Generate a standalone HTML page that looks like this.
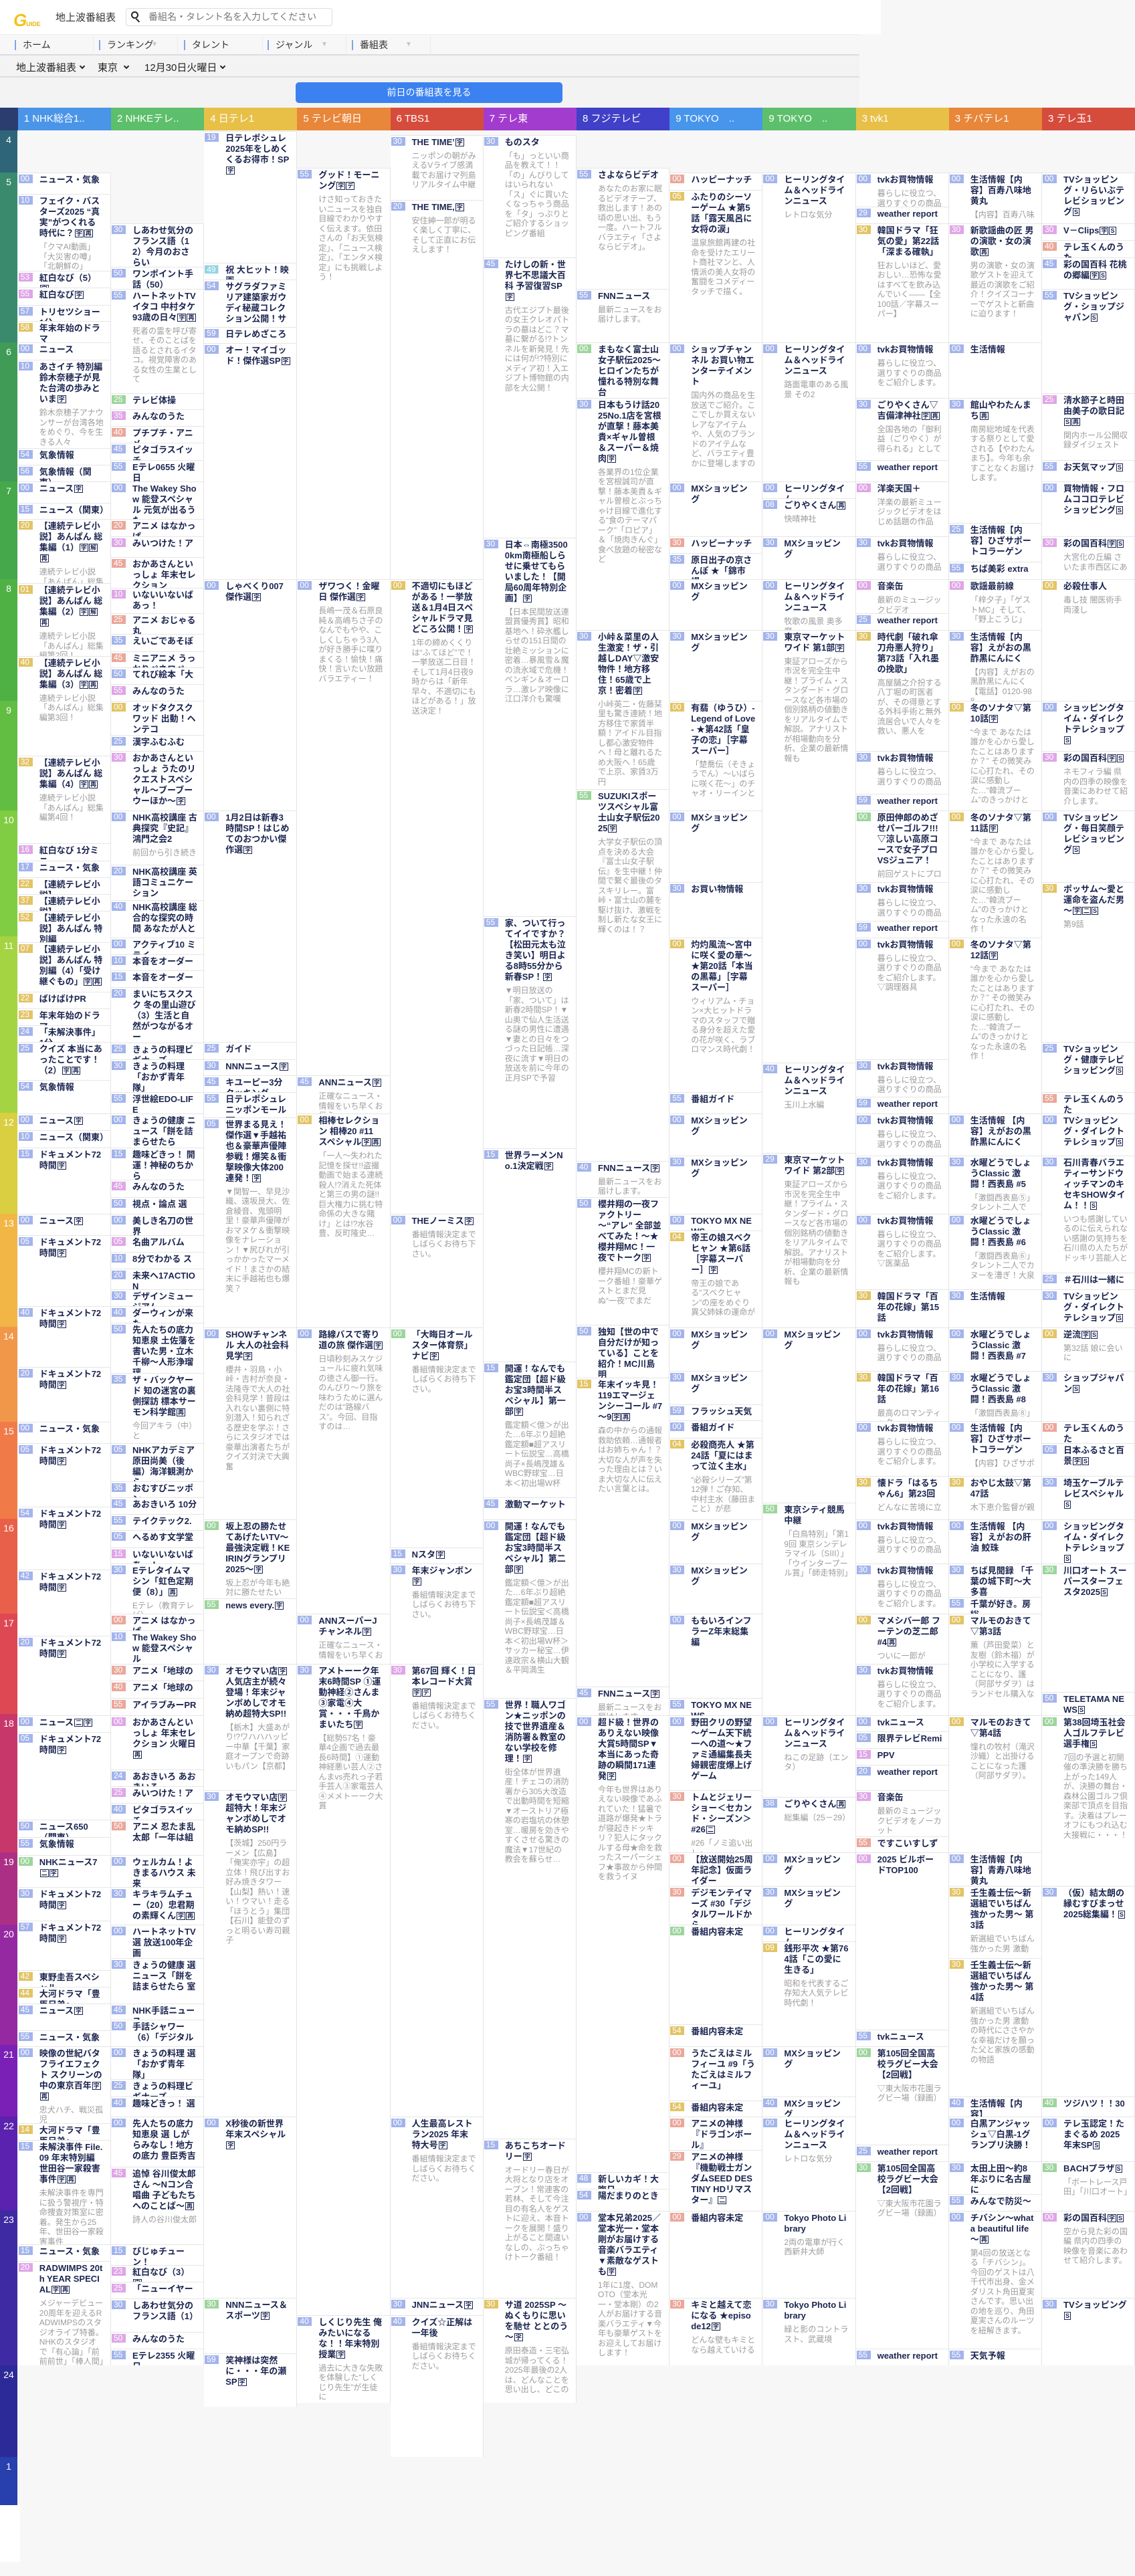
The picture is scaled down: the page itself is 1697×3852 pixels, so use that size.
<!DOCTYPE html>
<html lang="ja"><head><meta charset="utf-8"><title>地上波番組表</title>
<style>
*{box-sizing:border-box}
html{height:3852px;overflow:hidden}
body{margin:0;width:1697px;height:3852px;position:relative;background:#f7f7f8;overflow:hidden;font-family:"Liberation Sans","Noto Sans CJK JP",sans-serif}
.a{position:absolute}
.nav{left:0;top:51px;width:1285px;height:32px;background:#f7f7f7;border-top:1px solid #eee;border-bottom:2px solid #dcdcdc}
.ni{position:absolute;top:0;height:30px;width:126px;border-right:1px solid #ececec;font-size:14px;line-height:30px;color:#333}
.ni:before{content:"";position:absolute;left:8px;top:8px;width:2px;height:15px;background:#7aa6e6}
.ni span{position:absolute;left:20px}
.ni em{position:absolute;font-style:normal;color:#c4c4c4;font-size:10px}
.sel{left:0;top:83px;width:1285px;height:33px;background:#f3f3f3;border-bottom:2px solid #dcdcdc;font-size:15px;color:#222}
.sel span{position:absolute;top:7px}
.chev{display:inline-block;width:6px;height:6px;border-right:2px solid #222;border-bottom:2px solid #222;transform:rotate(45deg);margin-left:6px;vertical-align:4px}
.hdr{top:161px;height:34px;color:#fff;font-size:15px;line-height:34px;padding-left:9px;white-space:nowrap;overflow:hidden}
.h{left:0;width:26px;color:#fff;font-size:14px;line-height:16px;text-align:center;padding-top:6px}
.col{position:absolute;top:195px;width:139.3px;overflow:hidden;height:var(--e)}
.c{position:absolute;left:0;right:0;background:#fff;border-top:1px solid #e6e6e6;border-right:1px solid #e4e4e4;overflow:hidden}
.u{top:calc(var(--y)*1.18px - 5px);height:calc(var(--e) - var(--y)*1.18px + 5px)}
.l{top:calc(var(--y)*1.162px + 1835px);height:calc(var(--e) - var(--y)*1.162px - 1835px)}
.c i{position:absolute;left:1px;top:2px;width:21px;height:13px;background:#a3b4ec;color:#fff;font:12px/13px "Liberation Sans",sans-serif;font-style:normal;padding-left:3px}
.c i.p{background:#dfa6e7}.c i.y{background:#e2c465}.c i.g{background:#9dd59d}.c i.r{background:#eba79a}.c i.c{background:#8fd5e6}
.c b{display:block;margin-left:32px;width:97px;padding-top:2px;font:bold 13px/16px "Liberation Sans","Noto Sans CJK JP",sans-serif;color:#1b2550;word-break:break-all}
.c p{margin:5px 0 0 32px;width:97px;font:12px/14.5px "Liberation Sans","Noto Sans CJK JP",sans-serif;color:#9c9c9c;word-break:break-all}
.k{display:inline-block;font-size:9px;line-height:10px;border:1px solid #1b2550;padding:0 1px;margin-left:1px;vertical-align:1px}
</style></head><body>

<!-- top bar -->
<div class="a" style="left:0;top:0;width:1317px;height:51px;background:#fff"></div>
<div class="a" style="left:20px;top:17px;font:italic bold 26px/26px 'Liberation Sans',sans-serif;color:#f2c21b;letter-spacing:-1px">G<span style="font-size:9px;font-style:normal;color:#e8b410;letter-spacing:0">UIDE</span></div>
<div class="a" style="left:83px;top:16px;font-size:15px;line-height:22px;color:#333">地上波番組表</div>
<div class="a" style="left:188px;top:12px;width:309px;height:27px;border:1px solid #ddd;border-radius:4px;background:#fff"></div>
<div class="a" style="left:196px;top:17px;width:11px;height:11px;border:2px solid #222;border-radius:50%"></div>
<div class="a" style="left:205px;top:27px;width:2px;height:7px;background:#222;transform:rotate(-45deg)"></div>
<div class="a" style="left:222px;top:15px;font-size:14px;line-height:20px;color:#777">番組名・タレント名を入力してください</div>

<div class="a nav">
<div class="ni" style="left:14px"><span>ホーム</span></div>
<div class="ni" style="left:140px"><span>ランキング</span><em style="left:86px">▼</em></div>
<div class="ni" style="left:267px"><span>タレント</span></div>
<div class="ni" style="left:392px"><span>ジャンル</span><em style="left:88px">▼</em></div>
<div class="ni" style="left:518px"><span>番組表</span><em style="left:88px">▼</em></div>
</div>
<div class="a sel">
<span style="left:24px">地上波番組表<i class="chev"></i></span>
<span style="left:146px">東京 <i class="chev"></i></span>
<span style="left:216px">12月30日火曜日<i class="chev"></i></span>
</div>
<div class="a" style="left:0;top:117px;width:1285px;height:44px;background:#f3f3f3"></div>
<div class="a" style="left:442px;top:123px;width:399px;height:31px;background:#3b82f0;border-radius:5px;color:#fff;font-size:14px;line-height:31px;text-align:center">前日の番組表を見る</div>

<!-- channel header -->
<div class="a hdr" style="left:0;width:27px;background:#2b3d6e;padding:0"></div>
<div class="a hdr" style="left:26.7px;width:139.3px;background:#4a95e8">1 NHK総合1..</div>
<div class="a hdr" style="left:166px;width:139.3px;background:#5dbf6b">2 NHKEテレ..</div>
<div class="a hdr" style="left:305.2px;width:139.3px;background:#e8c048">4 日テレ1</div>
<div class="a hdr" style="left:444.4px;width:139.3px;background:#e8863a">5 テレビ朝日</div>
<div class="a hdr" style="left:583.6px;width:139.3px;background:#d64c3c">6 TBS1</div>
<div class="a hdr" style="left:722.8px;width:139.3px;background:#a23ccf">7 テレ東</div>
<div class="a hdr" style="left:862px;width:139.3px;background:#4040c8">8 フジテレビ</div>
<div class="a hdr" style="left:1001.2px;width:139.3px;background:#4895ec">9 TOKYO　..</div>
<div class="a hdr" style="left:1140.4px;width:139.3px;background:#5dbf6b">9 TOKYO　..</div>
<div class="a hdr" style="left:1279.6px;width:139.3px;background:#e8c048">3 tvk1</div>
<div class="a hdr" style="left:1418.8px;width:139.3px;background:#e8863a">3 チバテレ1</div>
<div class="a hdr" style="left:1558px;width:139px;background:#d64c3c">3 テレ玉1</div>

<!-- time column -->
<div class="a h" style="top:195px;height:63px;background:#2e6579">4</div>
<div class="a h" style="top:258px;height:254px;background:#3a8a6e">5</div>
<div class="a h" style="top:512px;height:208px;background:#3f9b56">6</div>
<div class="a h" style="top:720px;height:146px;background:#45a84a">7</div>
<div class="a h" style="top:866px;height:182px;background:#4fb144">8</div>
<div class="a h" style="top:1048px;height:164px;background:#62be42">9</div>
<div class="a h" style="top:1212px;height:188px;background:#80cc42">10</div>
<div class="a h" style="top:1400px;height:264px;background:#a4d442">11</div>
<div class="a h" style="top:1664px;height:151px;background:#dacf40">12</div>
<div class="a h" style="top:1815px;height:169px;background:#f1b646">13</div>
<div class="a h" style="top:1984px;height:142px;background:#f1974a">14</div>
<div class="a h" style="top:2126px;height:145px;background:#f07b48">15</div>
<div class="a h" style="top:2271px;height:142px;background:#e9604a">16</div>
<div class="a h" style="top:2413px;height:150px;background:#de4853">17</div>
<div class="a h" style="top:2563px;height:207px;background:#c7376a">18</div>
<div class="a h" style="top:2770px;height:108px;background:#ac2f86">19</div>
<div class="a h" style="top:2878px;height:180px;background:#9529a1">20</div>
<div class="a h" style="top:3058px;height:107px;background:#7a20b6">21</div>
<div class="a h" style="top:3165px;height:140px;background:#5a22ae">22</div>
<div class="a h" style="top:3305px;height:232px;background:#3e2aa2">23</div>
<div class="a h" style="top:3537px;height:137px;background:#2c2a98">24</div>
<div class="a h" style="top:3674px;height:72px;background:#2740ae">1</div>
<div class="a" style="left:0;top:3746px;width:30px;height:85px;background:#fff"></div>

<!-- NHK -->
<div class="col" style="left:26.7px;--e:3342px">
<div class="c u" style="--y:58"><i>00</i><b>ニュース・気象</b></div>
<div class="c u" style="--y:85"><i>10</i><b>フェイク・バスターズ2025 “真実”がつくれる時代に？<span class="k">字</span><span class="k">再</span></b><p>「クマAI動画」「大災害の噂」「北朝鮮の」</p></div>
<div class="c u" style="--y:182"><i class="p">53</i><b>紅白なび（5）<span class="k">字</span></b></div>
<div class="c u" style="--y:203"><i class="p">55</i><b>紅白なび<span class="k">字</span></b></div>
<div class="c u" style="--y:225"><i>57</i><b>トリセツショー1分</b></div>
<div class="c u" style="--y:246"><i class="y">58</i><b>年末年始のドラマ</b></div>
<div class="c u" style="--y:273"><i>00</i><b>ニュース</b></div>
<div class="c u" style="--y:295"><i>10</i><b>あさイチ 特別編 鈴木奈穂子が見た台湾の歩みといま<span class="k">字</span></b><p>鈴木奈穂子アナウンサーが台湾各地をめぐり、今を生きる人々</p></div>
<div class="c u" style="--y:407"><i>54</i><b>気象情報</b></div>
<div class="c u" style="--y:428"><i>56</i><b>気象情報（関東）</b></div>
<div class="c u" style="--y:449"><i>00</i><b>ニュース<span class="k">字</span></b></div>
<div class="c u" style="--y:476"><i>15</i><b>ニュース（関東）</b></div>
<div class="c u" style="--y:497"><i class="y">20</i><b>【連続テレビ小説】あんぱん 総集編（1）<span class="k">字</span><span class="k">解</span><span class="k">再</span></b><p>連続テレビ小説「あんぱん」総集編</p></div>
<div class="c u" style="--y:578"><i class="y">01</i><b>【連続テレビ小説】あんぱん 総集編（2）<span class="k">字</span><span class="k">解</span><span class="k">再</span></b><p>連続テレビ小説「あんぱん」総集編第2回！</p></div>
<div class="c u" style="--y:670"><i class="y">40</i><b>【連続テレビ小説】あんぱん 総集編（3）<span class="k">字</span><span class="k">再</span></b><p>連続テレビ小説「あんぱん」総集編第3回！</p></div>
<div class="c u" style="--y:797"><i class="y">32</i><b>【連続テレビ小説】あんぱん 総集編（4）<span class="k">字</span><span class="k">再</span></b><p>連続テレビ小説「あんぱん」総集編第4回！</p></div>
<div class="c u" style="--y:908"><i class="p">16</i><b>紅白なび 1分ミニ</b></div>
<div class="c u" style="--y:930"><i>17</i><b>ニュース・気象</b></div>
<div class="c u" style="--y:951"><i class="y">22</i><b>【連続テレビ小説】</b></div>
<div class="c u" style="--y:972"><i class="y">37</i><b>【連続テレビ小説】</b></div>
<div class="c u" style="--y:993"><i class="y">52</i><b>【連続テレビ小説】あんぱん 特別編</b></div>
<div class="c u" style="--y:1033"><i class="y">07</i><b>【連続テレビ小説】あんぱん 特別編（4）「受け継ぐもの」<span class="k">字</span><span class="k">再</span></b></div>
<div class="c u" style="--y:1096"><i class="y">22</i><b>ばけばけPR</b></div>
<div class="c u" style="--y:1117"><i class="y">23</i><b>年末年始のドラマ</b></div>
<div class="c u" style="--y:1138"><i>24</i><b>「未解決事件」1分</b></div>
<div class="c u" style="--y:1159"><i>25</i><b>クイズ 本当にあったことです！（2）<span class="k">字</span><span class="k">再</span></b></div>
<div class="c u" style="--y:1208"><i>54</i><b>気象情報</b></div>
<div class="c u" style="--y:1250"><i>00</i><b>ニュース<span class="k">字</span></b></div>
<div class="c u" style="--y:1271"><i>10</i><b>ニュース（関東）</b></div>
<div class="c u" style="--y:1293"><i>15</i><b>ドキュメント72時間<span class="k">字</span></b></div>
<div class="c u" style="--y:1377"><i>00</i><b>ニュース<span class="k">字</span></b></div>
<div class="c u" style="--y:1404"><i>05</i><b>ドキュメント72時間<span class="k">字</span></b></div>
<div class="c u" style="--y:1494"><i>40</i><b>ドキュメント72時間<span class="k">字</span></b></div>
<div class="c l" style="--y:12"><i>20</i><b>ドキュメント72時間<span class="k">字</span></b></div>
<div class="c l" style="--y:83"><i>00</i><b>ニュース・気象</b></div>
<div class="c l" style="--y:110"><i>05</i><b>ドキュメント72時間<span class="k">字</span></b></div>
<div class="c l" style="--y:192"><i>54</i><b>ドキュメント72時間<span class="k">字</span></b></div>
<div class="c l" style="--y:273"><i>42</i><b>ドキュメント72時間<span class="k">字</span></b></div>
<div class="c l" style="--y:358"><i>20</i><b>ドキュメント72時間<span class="k">字</span></b></div>
<div class="c l" style="--y:460"><i>00</i><b>ニュース<span class="k">二</span><span class="k">字</span></b></div>
<div class="c l" style="--y:482"><i>05</i><b>ドキュメント72時間<span class="k">字</span></b></div>
<div class="c l" style="--y:595"><i>50</i><b>ニュース650（関東）</b></div>
<div class="c l" style="--y:617"><i>55</i><b>気象情報</b></div>
<div class="c l" style="--y:640"><i class="g">00</i><b>NHKニュース7<span class="k">二</span><span class="k">字</span></b></div>
<div class="c l" style="--y:682"><i>30</i><b>ドキュメント72時間<span class="k">字</span></b></div>
<div class="c l" style="--y:725"><i>57</i><b>ドキュメント72時間<span class="k">字</span></b></div>
<div class="c l" style="--y:788"><i class="y">42</i><b>東野圭吾スペシャル</b></div>
<div class="c l" style="--y:810"><i class="y">44</i><b>大河ドラマ「豊臣兄弟」</b></div>
<div class="c l" style="--y:831"><i>45</i><b>ニュース<span class="k">字</span></b></div>
<div class="c l" style="--y:866"><i>55</i><b>ニュース・気象</b></div>
<div class="c l" style="--y:886"><i>00</i><b>映像の世紀バタフライエフェクト スクリーンの中の東京百年<span class="k">字</span><span class="k">再</span></b><p>忠犬ハチ、戦災孤児</p></div>
<div class="c l" style="--y:985"><i class="y">14</i><b>大河ドラマ「豊臣兄弟」</b></div>
<div class="c l" style="--y:1007"><i>15</i><b>未解決事件 File.09 年末特別編 世田谷一家殺害事件<span class="k">字</span><span class="k">再</span></b><p>未解決事件を専門に扱う警視庁・特命捜査対策室に密着。発生から25年、世田谷一家殺害事件</p></div>
<div class="c l" style="--y:1141"><i>15</i><b>ニュース・気象</b></div>
<div class="c l" style="--y:1163"><i class="p">20</i><b>RADWIMPS 20th YEAR SPECIAL<span class="k">字</span><span class="k">再</span></b><p>メジャーデビュー20周年を迎えるRADWIMPSのスタジオライブ特番。NHKのスタジオで「有心論」「前前前世」「棒人間」</p></div>
</div>

<!-- NHK E -->
<div class="col" style="left:166px;--e:3342px">
<div class="c u" style="--y:122"><i>30</i><b>しあわせ気分のフランス語（12）今月のおさらい</b></div>
<div class="c u" style="--y:177"><i>50</i><b>ワンポイント手話（50）</b></div>
<div class="c u" style="--y:205"><i>55</i><b>ハートネットTV イタコ 中村タケ93歳の日々<span class="k">字</span><span class="k">再</span></b><p>死者の霊を呼び寄せ、そのことばを語るとされるイタコ。視覚障害のある女性の生業として</p></div>
<div class="c u" style="--y:337"><i class="g">25</i><b>テレビ体操</b></div>
<div class="c u" style="--y:358"><i class="p">35</i><b>みんなのうた</b></div>
<div class="c u" style="--y:379"><i class="r">40</i><b>プチプチ・アニメ</b></div>
<div class="c u" style="--y:400"><i>45</i><b>ピタゴラスイッチ</b></div>
<div class="c u" style="--y:422"><i>55</i><b>Eテレ0655 火曜日</b></div>
<div class="c u" style="--y:449"><i>00</i><b>The Wakey Show 能登スペシャル 元気が出るうた</b></div>
<div class="c u" style="--y:497"><i class="r">20</i><b>アニメ はなかっぱ</b></div>
<div class="c u" style="--y:519"><i class="p">30</i><b>みいつけた！ア</b></div>
<div class="c u" style="--y:545"><i class="r">45</i><b>おかあさんといっしょ 年末セレクション</b></div>
<div class="c u" style="--y:584"><i class="p">10</i><b>いないいないばあっ！</b></div>
<div class="c u" style="--y:616"><i class="r">25</i><b>アニメ おじゃる丸</b></div>
<div class="c u" style="--y:642"><i>35</i><b>えいごであそぼ</b></div>
<div class="c u" style="--y:664"><i class="r">45</i><b>ミニアニメ うっかりペネロペ</b></div>
<div class="c u" style="--y:685"><i>50</i><b>てれび絵本「大</b></div>
<div class="c u" style="--y:706"><i class="p">55</i><b>みんなのうた</b></div>
<div class="c u" style="--y:727"><i class="y">00</i><b>オッドタクスクワッド 出動！ヘンテコ</b></div>
<div class="c u" style="--y:770"><i>25</i><b>漢字ふむふむ</b></div>
<div class="c u" style="--y:791"><i class="p">30</i><b>おかあさんといっしょ うたのリクエストスペシャル～ブーブーウーほか～<span class="k">字</span></b></div>
<div class="c u" style="--y:866"><i>00</i><b>NHK高校講座 古典探究『史記』鴻門之会2</b><p>前回から引き続き</p></div>
<div class="c u" style="--y:935"><i>20</i><b>NHK高校講座 英語コミュニケーション</b></div>
<div class="c u" style="--y:980"><i>40</i><b>NHK高校講座 総合的な探究の時間 あなたが人と</b></div>
<div class="c u" style="--y:1027"><i>00</i><b>アクティブ10 ミライ</b></div>
<div class="c u" style="--y:1048"><i>10</i><b>本音をオーダー</b></div>
<div class="c u" style="--y:1069"><i>15</i><b>本音をオーダー</b></div>
<div class="c u" style="--y:1090"><i>20</i><b>まいにちスクスク 冬の里山遊び（3）生活と自然がつながるオー</b></div>
<div class="c u" style="--y:1160"><i>25</i><b>きょうの料理ビギナーズ</b></div>
<div class="c u" style="--y:1181"><i>30</i><b>きょうの料理「おかず青年隊」</b></div>
<div class="c u" style="--y:1223"><i>55</i><b>浮世絵EDO-LIFE</b></div>
<div class="c u" style="--y:1250"><i>00</i><b>きょうの健康 ニュース「餅を詰まらせたら</b></div>
<div class="c u" style="--y:1293"><i>15</i><b>趣味どきっ！ 開運！神秘のちから</b></div>
<div class="c u" style="--y:1334"><i class="p">45</i><b>みんなのうた</b></div>
<div class="c u" style="--y:1356"><i>50</i><b>視点・論点 選</b></div>
<div class="c u" style="--y:1377"><i>00</i><b>美しき名刀の世界</b></div>
<div class="c u" style="--y:1404"><i class="p">05</i><b>名曲アルバム</b></div>
<div class="c u" style="--y:1425"><i>10</i><b>8分でわかる ス</b></div>
<div class="c u" style="--y:1447"><i>20</i><b>未来へ17ACTION</b></div>
<div class="c u" style="--y:1473"><i>30</i><b>デザインミュージアム</b></div>
<div class="c u" style="--y:1494"><i>40</i><b>ダーウィンが来た</b></div>
<div class="c u" style="--y:1515"><i>50</i><b>先人たちの底力 知恵泉 土佐藩を書いた男・立木千柳～人形浄瑠璃</b></div>
<div class="c l" style="--y:20"><i>35</i><b>ザ・バックヤード 知の迷宮の裏側探訪 標本サーモン科学館<span class="k">再</span></b><p>今回アキラ（中）と</p></div>
<div class="c l" style="--y:110"><i>05</i><b>NHKアカデミア 原田尚美（後編）海洋観測から</b></div>
<div class="c l" style="--y:159"><i>35</i><b>おむすびニッポン</b></div>
<div class="c l" style="--y:180"><i>45</i><b>あおきいろ 10分</b></div>
<div class="c l" style="--y:201"><i>55</i><b>テイクテック2.</b></div>
<div class="c l" style="--y:222"><i>05</i><b>へるめす文学堂</b></div>
<div class="c l" style="--y:244"><i class="p">15</i><b>いないいないばあっ！</b></div>
<div class="c l" style="--y:265"><i>30</i><b>Eテレタイムマシン「虹色定期便（8）」<span class="k">再</span></b><p>Eテレ（教育テレビ）</p></div>
<div class="c l" style="--y:330"><i class="r">00</i><b>アニメ はなかっぱ</b></div>
<div class="c l" style="--y:351"><i>10</i><b>The Wakey Show 能登スペシャル</b></div>
<div class="c l" style="--y:394"><i class="r">30</i><b>アニメ「地球の</b></div>
<div class="c l" style="--y:416"><i class="r">40</i><b>アニメ「地球の</b></div>
<div class="c l" style="--y:438"><i class="r">55</i><b>アイラブみーPR</b></div>
<div class="c l" style="--y:460"><i class="p">00</i><b>おかあさんといっしょ 年末セレクション 火曜日<span class="k">再</span></b></div>
<div class="c l" style="--y:530"><i>24</i><b>あおきいろ あおきいろ</b></div>
<div class="c l" style="--y:552"><i class="p">25</i><b>みいつけた！ア</b></div>
<div class="c l" style="--y:573"><i>40</i><b>ピタゴラスイッチ</b></div>
<div class="c l" style="--y:595"><i class="r">50</i><b>アニメ 忍たま乱太郎「一年は組</b></div>
<div class="c l" style="--y:640"><i>00</i><b>ウェルカム！よきまるハウス 未来</b></div>
<div class="c l" style="--y:682"><i>30</i><b>キラキラムチュー（20）忠君期の素輝くん<span class="k">字</span><span class="k">再</span></b></div>
<div class="c l" style="--y:730"><i>00</i><b>ハートネットTV 選 放送100年企画</b></div>
<div class="c l" style="--y:773"><i>30</i><b>きょうの健康 選 ニュース「餅を詰まらせたら 室</b></div>
<div class="c l" style="--y:831"><i>45</i><b>NHK手話ニュース</b></div>
<div class="c l" style="--y:852"><i>50</i><b>手話シャワー（6）「デジタル</b></div>
<div class="c l" style="--y:886"><i>00</i><b>きょうの料理 選「おかず青年隊」</b></div>
<div class="c l" style="--y:929"><i>25</i><b>きょうの料理ビギナーズ</b></div>
<div class="c l" style="--y:951"><i>40</i><b>趣味どきっ！ 選</b></div>
<div class="c l" style="--y:977"><i>00</i><b>先人たちの底力 知恵泉 選 しがらみなし！地方の底力 豊臣秀吉</b></div>
<div class="c l" style="--y:1041"><i class="p">45</i><b>追悼 谷川俊太郎さん ～Nコン合唱曲 子どもたちへのことば～<span class="k">再</span></b><p>詩人の谷川俊太郎</p></div>
<div class="c l" style="--y:1141"><i>15</i><b>びじゅチューン！</b></div>
<div class="c l" style="--y:1168"><i class="p">23</i><b>紅白なび（3）<span class="k">字</span></b></div>
<div class="c l" style="--y:1189"><i class="p">25</i><b>「ニューイヤー</b></div>
<div class="c l" style="--y:1211"><i>30</i><b>しあわせ気分のフランス語（1）</b></div>
<div class="c l" style="--y:1254"><i class="p">50</i><b>みんなのうた</b></div>
<div class="c l" style="--y:1275"><i>55</i><b>Eテレ2355 火曜日</b></div>
</div>

<!-- 日テレ -->
<div class="col" style="left:305.2px;--e:3404px">
<div class="c u" style="--y:5"><i>19</i><b>日テレポシュレ 2025年をしめくくるお得市！SP<span class="k">字</span></b></div>
<div class="c u" style="--y:172"><i class="c">49</i><b>祝 大ヒット！映画</b></div>
<div class="c u" style="--y:193"><i>54</i><b>サグラダファミリア建築家ガウディ秘蔵コレクション公開！サ</b></div>
<div class="c u" style="--y:253"><i>59</i><b>日テレめざころ</b></div>
<div class="c u" style="--y:274"><i>00</i><b>オー！マイゴッド！傑作選SP<span class="k">字</span></b></div>
<div class="c u" style="--y:573"><i>00</i><b>しゃべくり007 傑作選<span class="k">字</span></b></div>
<div class="c u" style="--y:866"><i>00</i><b>1月2日は新春3時間SP！はじめてのおつかい傑作選<span class="k">字</span></b></div>
<div class="c u" style="--y:1159"><i>25</i><b>ガイド</b></div>
<div class="c u" style="--y:1181"><i>30</i><b>NNNニュース<span class="k">字</span></b></div>
<div class="c u" style="--y:1202"><i>45</i><b>キユーピー3分クッキング</b></div>
<div class="c u" style="--y:1223"><i>55</i><b>日テレポシュレ ニッポンモール<span class="k">字</span></b></div>
<div class="c u" style="--y:1255"><i>05</i><b>世界まる見え！傑作選▼手越祐也＆豪華声優陣参戦！爆笑＆衝撃映像大体200連発！<span class="k">字</span></b><p>▼関智一、早見沙織、遠坂艮大、佐倉綾音、鬼頭明里！豪華声優陣がおマヌケ＆衝撃映像をナレーション！▼尻びれが引っかかったマーメイド！まさかの結末に手越祐也も爆笑？</p></div>
<div class="c u" style="--y:1521"><i>00</i><b>SHOWチャンネル 大人の社会科見学<span class="k">字</span></b><p>櫻井・羽鳥・小峠・吉村が奈良・法隆寺で大人の社会科見学！普段は入れない裏側に特別潜入！知られざる歴史を学ぶ！さらにスタジオでは豪華出演者たちがクイズ対決で大興奮</p></div>
<div class="c l" style="--y:208"><i class="g">00</i><b>坂上忍の勝たせてあげたいTV～最強決定戦！KEIRINグランプリ2025～<span class="k">字</span></b><p>坂上忍が今年も絶対に勝たせたい</p></div>
<div class="c l" style="--y:310"><i class="g">55</i><b>news every.<span class="k">字</span></b></div>
<div class="c l" style="--y:394"><i>30</i><b>オモウマい店<span class="k">字</span>人気店主が続々登場！年末ジャンボめしでオモ納め超特大SP!!</b><p>【栃木】大盛あがり!?ワハハハッピー中華【千葉】家庭オープンで奇跡いもパン【京都】</p></div>
<div class="c l" style="--y:557"><i>30</i><b>オモウマい店<span class="k">字</span>超特大！年末ジャンボめしでオモ納めSP!!</b><p>【茨城】250円ラーメン【広島】「俺実亦宇」の超立体！飛び出すお好み焼きタワー【山梨】熱い！速い！ウマい！走る「ほうとう」集団【石川】能登のずっと明るい寿司親子</p></div>
<div class="c l" style="--y:977"><i>00</i><b>X秒後の新世界 年末スペシャル<span class="k">字</span></b></div>
<div class="c l" style="--y:1210"><i class="g">30</i><b>NNNニュース＆スポーツ<span class="k">字</span></b></div>
<div class="c l" style="--y:1281"><i>59</i><b>笑神様は突然に・・・年の瀬SP<span class="k">字</span></b></div>
</div>

<!-- テレ朝 -->
<div class="col" style="left:444.4px;--e:3398px">
<div class="c u" style="--y:52"><i>55</i><b>グッド！モーニング<span class="k">字</span><span class="k">デ</span></b><p>けさ知っておきたいニュースを独自目線でわかりやすく伝えます。依田さんの「お天気検定」、「ニュース検定」、「エンタメ検定」にも挑戦しよう！</p></div>
<div class="c u" style="--y:573"><i>00</i><b>ザワつく！金曜日 傑作選<span class="k">字</span></b><p>長嶋一茂＆石原良純＆高嶋ちさ子のなんでもやや、こしくしちゃう3人が好き勝手に喋りまくる！愉快！痛快！言いたい放題バラエティー！</p></div>
<div class="c u" style="--y:1202"><i>45</i><b>ANNニュース<span class="k">字</span></b><p>正確なニュース・情報をいち早くお伝え</p></div>
<div class="c u" style="--y:1250"><i class="y">00</i><b>相棒セレクション 相棒20 #11 スペシャル<span class="k">字</span><span class="k">再</span></b><p>「一人～失われた記憶を探せ!!盗撮動画で始まる連続殺人!?消えた死体と第三の男の謎!!巨大権力に挑む特命係の大きな賭け」とは!?水谷豊、反町隆史…</p></div>
<div class="c u" style="--y:1521"><i>00</i><b>路線バスで寄り道の旅 傑作選<span class="k">字</span></b><p>日頃秒刻みスケジュールに疲れ気味の徳さん御一行。のんびり～り旅を味わうために選んだのは“路線バス”。今回、目指すのは…</p></div>
<div class="c l" style="--y:330"><i>00</i><b>ANNスーパーJチャンネル<span class="k">字</span></b><p>正確なニュース・情報をいち早くお</p></div>
<div class="c l" style="--y:394"><i>30</i><b>アメトーーク年末6時間SP ①運動神経②さんま③家電④大賞・・・千鳥かまいたち<span class="k">字</span></b><p>【総勢57名！豪華4企画で過去最長6時間】①運動神経悪い芸人②さんまvs売れっ子若手芸人③家電芸人④メメトーーク大賞</p></div>
<div class="c l" style="--y:1232"><i>40</i><b>しくじり先生 俺みたいになるな！！年末特別授業<span class="k">字</span></b><p>過去に大きな失敗を体験した“しくじり先生”が生徒に</p></div>
</div>

<!-- TBS -->
<div class="col" style="left:583.6px;--e:3479px">
<div class="c u" style="--y:10"><i>30</i><b>THE TIME’<span class="k">字</span></b><p>ニッポンの朝がみえるVライブ感満載でお届けマ列島リアルタイム中継</p></div>
<div class="c u" style="--y:92"><i>20</i><b>THE TIME,<span class="k">字</span></b><p>安住紳一郎が明るく楽しく丁寧に、そして正直にお伝えします！</p></div>
<div class="c u" style="--y:573"><i class="y">00</i><b>不適切にもほどがある！一挙放送＆1月4日スペシャルドラマ見どころ公開！<span class="k">字</span></b><p>1年の締めくくりは“ふてほど”で！一挙放送二日目！そして1月4日夜9時からは「新年早々、不適切にもほどがある！」放送決定！</p></div>
<div class="c u" style="--y:1377"><i>00</i><b>THEノーミス<span class="k">字</span></b><p>番組情報決定までしばらくお待ち下さい。</p></div>
<div class="c u" style="--y:1521"><i class="g">00</i><b>「大晦日オールスター体育祭」ナビ<span class="k">字</span></b><p>番組情報決定までしばらくお待ち下さい。</p></div>
<div class="c l" style="--y:244"><i>15</i><b>Nスタ<span class="k">字</span></b></div>
<div class="c l" style="--y:265"><i>30</i><b>年末ジャンボン<span class="k">字</span></b><p>番組情報決定までしばらくお待ち下さい。</p></div>
<div class="c l" style="--y:394"><i class="p">30</i><b>第67回 輝く！日本レコード大賞<span class="k">字</span><span class="k">デ</span></b><p>番組情報決定までしばらくお待ちください。</p></div>
<div class="c l" style="--y:977"><i>00</i><b>人生最高レストラン2025 年末特大号<span class="k">字</span></b><p>番組情報決定までしばらくお待ちください。</p></div>
<div class="c l" style="--y:1210"><i>30</i><b>JNNニュース<span class="k">字</span></b></div>
<div class="c l" style="--y:1232"><i>40</i><b>クイズ☆正解は一年後</b><p>番組情報決定までしばらくお待ちください。</p></div>
</div>

<!-- テレ東 -->
<div class="col" style="left:722.8px;--e:3398px">
<div class="c u" style="--y:10"><i>30</i><b>ものスタ</b><p>「も」っといい商品を教えて！！「の」んびりしてはいられない「ス」ぐに買いたくなっちゃう商品を「タ」っぷりとご紹介するショッピング番組</p></div>
<div class="c u" style="--y:165"><i>45</i><b>たけしの新・世界七不思議大百科 予習復習SP<span class="k">字</span></b><p>古代エジプト最後の女王クレオパトラの墓はどこ？マ墓に繋がる!?トンネルを新発見！先には何が!?特別にメディア初！入エジプト博物館の内部を大公開！</p></div>
<div class="c u" style="--y:520"><i>30</i><b>日本⇔南極35000km南極船しらせに乗せてもらいました！【開局60周年特別企画】<span class="k">字</span></b><p>【日本民間放送連盟賞優秀賞】昭和基地へ！砕氷艦しらせの151日間の壮絶ミッションに密着…暴風雪＆魔の流氷域で危機！ペンギン＆オーロラ…激レア映像に江口洋介も驚嘆</p></div>
<div class="c u" style="--y:1000"><i>55</i><b>家、ついて行ってイイですか？【松田元太も泣き笑い】明日よる8時55分から新春SP！<span class="k">字</span></b><p>▼明日放送の「家、ついて」は新春2時間SP！▼山奥で仙人生活送る謎の男性に遭遇▼妻との日々をつづった日記帳…深夜に流す▼明日の放送を前に今年の正月SPで予習</p></div>
<div class="c u" style="--y:1294"><i>15</i><b>世界ラーメンNo.1決定戦<span class="k">字</span></b></div>
<div class="c l" style="--y:5"><i>15</i><b>開運！なんでも鑑定団【超ド級お宝3時間半スペシャル】第一部<span class="k">字</span></b><p>鑑定額＜億＞が出た…6年ぶり超絶鑑定額■超アスリート伝説宝…高橋尚子×長嶋茂雄＆WBC野球宝…日本＜初出場W杯</p></div>
<div class="c l" style="--y:180"><i>45</i><b>激動マーケット</b></div>
<div class="c l" style="--y:208"><i>00</i><b>開運！なんでも鑑定団【超ド級お宝3時間半スペシャル】第二部<span class="k">字</span></b><p>鑑定額＜億＞が出た…6年ぶり超絶鑑定額■超アスリート伝説宝＜高橋尚子×長嶋茂雄＆WBC野球宝…日本＜初出場W杯＞サッカー秘宝…伊達政宗＆横山大観＆平岡満生</p></div>
<div class="c l" style="--y:438"><i>55</i><b>世界！職人ワゴン★ニッポンの技で世界遺産＆消防署＆教室のない学校を修理！<span class="k">字</span></b><p>街全体が世界遺産！チェコの消防署から305大改造で出動時間を短縮▼オーストリア極寒の岩塩坑の休憩室…暖房を効きやすくさせる驚きの魔法▼17世紀の教会を蘇らせ…</p></div>
<div class="c l" style="--y:1005"><i>15</i><b>あちこちオードリー<span class="k">字</span></b><p>オードリー春日が大将となり店をオープン！常連客の若林、そして今注目の有名人をゲストに迎え、本音トークを展開！盛り上がること間違いなしの、ぶっちゃけトーク番組！</p></div>
<div class="c l" style="--y:1210"><i class="y">30</i><b>サ道 2025SP ～ぬくもりに思いを馳せ ととのう～<span class="k">字</span></b><p>原田泰造・三宅弘城が帰ってくる！2025年最後の2人は、どんなことを思い出し、どこの</p></div>
</div>

<!-- フジ -->
<div class="col" style="left:862px;--e:3342px">
<div class="c u" style="--y:52"><i>55</i><b>さよならビデオ</b><p>あなたのお家に眠るビデオテープ、救出します！あの頃の思い出、もう一度。ハートフルバラエティ「さよならビデオ」。</p></div>
<div class="c u" style="--y:205"><i>55</i><b>FNNニュース</b><p>最新ニュースをお届けします。</p></div>
<div class="c u" style="--y:273"><i class="g">00</i><b>まもなく富士山女子駅伝2025～ヒロインたちが憧れる特別な舞台</b></div>
<div class="c u" style="--y:343"><i>30</i><b>日本もうけ話2025No.1店を宮根が直撃！藤本美貴×ギャル曽根＆スーパー＆焼肉<span class="k">字</span></b><p>各業界の1位企業を宮根誠司が直撃！藤本美貴＆ギャル曽根とぶっちゃけ目線で進化する“食のテーマパーク”「ロピア」＆「焼肉きんぐ」食べ放題の秘密など</p></div>
<div class="c u" style="--y:637"><i>30</i><b>小峠＆菜里の人生激変！ザ・引越しDAY▽激安物件！地方移住！65歳で上京！密着<span class="k">字</span></b><p>小峠英二・佐藤栞里も驚き連続！地方移住で家賃半額！アイドル目指し都心激安物件へ！母と離れるため大阪へ！65歳で上京、家賃3万円</p></div>
<div class="c u" style="--y:839"><i class="g">55</i><b>SUZUKIスポーツスペシャル富士山女子駅伝2025<span class="k">字</span></b><p>大学女子駅伝の頂点を決める大会『富士山女子駅伝』を生中継！仲間で繋ぐ最後のタスキリレー。富峠・富士山の麓を駆け抜け、激戦を制し新たな女王に輝くのは！？</p></div>
<div class="c u" style="--y:1310"><i>40</i><b>FNNニュース<span class="k">字</span></b><p>最新ニュースをお届けします。</p></div>
<div class="c u" style="--y:1356"><i>50</i><b>櫻井翔の一夜ファクトリー ～“アレ” 全部並べてみた！～★櫻井翔MC！一夜でトーク<span class="k">字</span></b><p>櫻井翔MCの新トーク番組！豪華ゲストとまだ見ぬ“一夜”でまだ</p></div>
<div class="c u" style="--y:1518"><i>50</i><b>独知【世の中で自分だけが知っている】ことを紹介！MC川島明</b></div>
<div class="c l" style="--y:26"><i class="y">15</i><b>年末イッキ見！119エマージェンシーコール #7～9<span class="k">字</span><span class="k">再</span></b><p>森の中からの通報 救助依頼…通報者はお姉ちゃん！？大切な人が声を失った理由とは？いま大切な人に伝えたい言葉とは。</p></div>
<div class="c l" style="--y:423"><i>45</i><b>FNNニュース<span class="k">字</span></b><p>最新ニュースをお届けします。</p></div>
<div class="c l" style="--y:460"><i>00</i><b>超ド級！世界のありえない映像大賞5時間SP▼本当にあった奇跡の瞬間171連発<span class="k">字</span></b><p>今年も世界はありえない映像であふれていた！猛暑で道路が爆発★トラが寝起きドッキリ？犯人にタックルする母★命を救ったスーパーシェフ★事故から仲間を救うイヌ</p></div>
<div class="c l" style="--y:1048"><i>48</i><b>新しいカギ！大晦日</b></div>
<div class="c l" style="--y:1070"><i>54</i><b>陽だまりのとき</b></div>
<div class="c l" style="--y:1098"><i>00</i><b>堂本兄弟2025／堂本光一・堂本剛がお届けする音楽バラエティ▼素敵なゲストも<span class="k">字</span></b><p>1年に1度、DOMOTO（堂本光一・堂本剛）の2人がお届けする音楽バラエティ▼今年も豪華ゲストをお迎えしてお届けします！</p></div>
</div>

<!-- TOKYO MX1 -->
<div class="col" style="left:1001.2px;--e:3342px">
<div class="c u" style="--y:58"><i class="r">00</i><b>ハッピーナッチ</b></div>
<div class="c u" style="--y:80"><i class="y">05</i><b>ふたりのシーソーゲーム ★第5話「露天風呂に女将の涙」</b><p>温泉旅館再建の社命を受けたエリート商社マンと、人情派の美人女将の奮闘をコメディータッチで描く。</p></div>
<div class="c u" style="--y:273"><i>00</i><b>ショップチャンネル お買い物エンターテイメント</b><p>国内外の商品を生放送でご紹介。ここでしか買えないレアなアイテムや、人気のブランドのアイテムなど、バラエティ豊かに登場しますの</p></div>
<div class="c u" style="--y:449"><i>00</i><b>MXショッピング</b></div>
<div class="c u" style="--y:519"><i class="r">30</i><b>ハッピーナッチ</b></div>
<div class="c u" style="--y:540"><i>35</i><b>原日出子の京さんぽ ★「錦市場」</b></div>
<div class="c u" style="--y:573"><i>00</i><b>MXショッピング</b></div>
<div class="c u" style="--y:637"><i>30</i><b>MXショッピング</b></div>
<div class="c u" style="--y:727"><i class="y">00</i><b>有翡（ゆうひ）-Legend of Love- ★第42話「皇子の恋」［字幕スーパー］</b><p>「楚喬伝（そきょうでん）～いばらに咲く花～」のチャオ・リーインと</p></div>
<div class="c u" style="--y:866"><i>00</i><b>MXショッピング</b></div>
<div class="c u" style="--y:957"><i>30</i><b>お買い物情報</b></div>
<div class="c u" style="--y:1027"><i class="y">00</i><b>灼灼風流～宮中に咲く愛の華～★第20話「本当の黒幕」［字幕スーパー］</b><p>ウィリアム・チョン×大ヒットドラマのスタッフで贈る身分を超えた愛の花が咲く、ラブロマンス時代劇！</p></div>
<div class="c u" style="--y:1223"><i>55</i><b>番組ガイド</b></div>
<div class="c u" style="--y:1250"><i>00</i><b>MXショッピング</b></div>
<div class="c u" style="--y:1303"><i>30</i><b>MXショッピング</b></div>
<div class="c u" style="--y:1377"><i>00</i><b>TOKYO MX NEWS</b></div>
<div class="c u" style="--y:1398"><i class="y">04</i><b>帝王の娘スベクヒャン ★第6話［字幕スーパー］<span class="k">字</span></b><p>帝王の娘である“スベクヒャン”の座をめぐり異父姉妹の運命が</p></div>
<div class="c u" style="--y:1521"><i>00</i><b>MXショッピング</b></div>
<div class="c l" style="--y:17"><i>30</i><b>MXショッピング</b></div>
<div class="c l" style="--y:60"><i>59</i><b>フラッシュ天気</b></div>
<div class="c l" style="--y:81"><i>00</i><b>番組ガイド</b></div>
<div class="c l" style="--y:103"><i class="y">04</i><b>必殺商売人 ★第24話「夏にはまって泣く主水」</b><p>“必殺シリーズ”第12弾！ご存知、中村主水（藤田まこと）が悲</p></div>
<div class="c l" style="--y:208"><i>00</i><b>MXショッピング</b></div>
<div class="c l" style="--y:265"><i>30</i><b>MXショッピング</b></div>
<div class="c l" style="--y:330"><i>00</i><b>ももいろインフラーZ年末総集編</b></div>
<div class="c l" style="--y:438"><i>55</i><b>TOKYO MX NEWS</b></div>
<div class="c l" style="--y:460"><i>00</i><b>野田クリの野望～ゲーム天下統一への道～★ファミ通編集長夫婦親密度爆上げゲーム</b></div>
<div class="c l" style="--y:557"><i class="r">30</i><b>トムとジェリーショー＜セカンド・シーズン＞ #26<span class="k">二</span></b><p>#26「ノミ追い出し」</p></div>
<div class="c l" style="--y:637"><i class="r">00</i><b>【放送開始25周年記念】仮面ライダー</b></div>
<div class="c l" style="--y:680"><i class="r">30</i><b>デジモンテイマーズ #30「デジタルワールドから</b></div>
<div class="c l" style="--y:730"><i class="g">00</i><b>番組内容未定</b></div>
<div class="c l" style="--y:858"><i class="y">54</i><b>番組内容未定</b></div>
<div class="c l" style="--y:886"><i class="r">00</i><b>うたごえはミルフィーユ #9「うたごえはミルフィーユ」</b></div>
<div class="c l" style="--y:956"><i class="y">54</i><b>番組内容未定</b></div>
<div class="c l" style="--y:977"><i class="r">00</i><b>アニメの神様『ドラゴンボール』</b></div>
<div class="c l" style="--y:1020"><i class="r">29</i><b>アニメの神様『機動戦士ガンダムSEED DESTINY HDリマスター』<span class="k">二</span></b></div>
<div class="c l" style="--y:1098"><i class="r">00</i><b>番組内容未定</b></div>
<div class="c l" style="--y:1210"><i class="r">30</i><b>キミと越えて恋になる ★episode12<span class="k">字</span></b><p>どんな壁もキミとなら越えていける</p></div>
</div>

<!-- TOKYO MX2 -->
<div class="col" style="left:1140.4px;--e:3342px">
<div class="c u" style="--y:58"><i>00</i><b>ヒーリングタイム＆ヘッドラインニュース</b><p>レトロな気分</p></div>
<div class="c u" style="--y:273"><i>00</i><b>ヒーリングタイム＆ヘッドラインニュース</b><p>路面電車のある風景 その2</p></div>
<div class="c u" style="--y:449"><i>00</i><b>ヒーリングタイム</b></div>
<div class="c u" style="--y:470"><i>08</i><b>ごりやくさん<span class="k">再</span></b><p>快晴神社</p></div>
<div class="c u" style="--y:519"><i>30</i><b>MXショッピング</b></div>
<div class="c u" style="--y:573"><i>00</i><b>ヒーリングタイム＆ヘッドラインニュース</b><p>牧歌の風景 奥多摩</p></div>
<div class="c u" style="--y:637"><i>30</i><b>東京マーケットワイド 第1部<span class="k">字</span></b><p>東証アローズから市況を完全生中継！プライム・スタンダード・グロースなど各市場の個別銘柄の値動きをリアルタイムで解説。アナリストが相場動向を分析、企業の最新情報も</p></div>
<div class="c u" style="--y:1186"><i>40</i><b>ヒーリングタイム＆ヘッドラインニュース</b><p>玉川上水編</p></div>
<div class="c u" style="--y:1300"><i>29</i><b>東京マーケットワイド 第2部<span class="k">字</span></b><p>東証アローズから市況を完全生中継！プライム・スタンダード・グロースなど各市場の個別銘柄の値動きをリアルタイムで解説。アナリストが相場動向を分析、企業の最新情報も</p></div>
<div class="c u" style="--y:1521"><i>00</i><b>MXショッピング</b></div>
<div class="c l" style="--y:187"><i class="g">50</i><b>東京シティ競馬 中継</b><p>「白鳥特別」「第19回 東京シンデレラマイル（SIII）」「ウインタープール賞」「師走特別」</p></div>
<div class="c l" style="--y:460"><i>00</i><b>ヒーリングタイム＆ヘッドラインニュース</b><p>ねこの足跡（エンタ）</p></div>
<div class="c l" style="--y:565"><i>38</i><b>ごりやくさん<span class="k">再</span></b><p>総集編（25－29）</p></div>
<div class="c l" style="--y:637"><i>00</i><b>MXショッピング</b></div>
<div class="c l" style="--y:680"><i>30</i><b>MXショッピング</b></div>
<div class="c l" style="--y:730"><i>00</i><b>ヒーリングタイム</b></div>
<div class="c l" style="--y:751"><i class="y">09</i><b>銭形平次 ★第764話「この愛に生きる」</b><p>昭和を代表するご存知大人気テレビ時代劇！</p></div>
<div class="c l" style="--y:886"><i>00</i><b>MXショッピング</b></div>
<div class="c l" style="--y:951"><i>40</i><b>MXショッピング</b></div>
<div class="c l" style="--y:977"><i>00</i><b>ヒーリングタイム＆ヘッドラインニュース</b><p>レトロな気分</p></div>
<div class="c l" style="--y:1098"><i>00</i><b>Tokyo Photo Library</b><p>2両の電車が行く西新井大師</p></div>
<div class="c l" style="--y:1210"><i>30</i><b>Tokyo Photo Library</b><p>緑と影のコントラスト、武蔵境</p></div>
</div>

<!-- tvk -->
<div class="col" style="left:1279.6px;--e:3342px">
<div class="c u" style="--y:58"><i>00</i><b>tvkお買物情報</b><p>暮らしに役立つ、選りすぐりの商品</p></div>
<div class="c u" style="--y:101"><i>29</i><b>weather report</b></div>
<div class="c u" style="--y:122"><i class="y">30</i><b>韓国ドラマ「狂気の愛」第22話「深まる確執」</b><p>狂おしいほど、愛おしい…恐怖な愛はすべてを飲み込んでいく――【全100話／字幕スーパー】</p></div>
<div class="c u" style="--y:273"><i>00</i><b>tvkお買物情報</b><p>暮らしに役立つ、選りすぐりの商品をご紹介します。</p></div>
<div class="c u" style="--y:343"><i>30</i><b>ごりやくさん▽吉備津神社<span class="k">字</span><span class="k">再</span></b><p>全国各地の「御利益（ごりやく）が得られる」として</p></div>
<div class="c u" style="--y:422"><i>55</i><b>weather report</b></div>
<div class="c u" style="--y:449"><i class="p">00</i><b>洋楽天国＋</b><p>洋楽の最新ミュージックビデオをはじめ話題の作品</p></div>
<div class="c u" style="--y:519"><i>30</i><b>tvkお買物情報</b><p>暮らしに役立つ、選りすぐりの商品</p></div>
<div class="c u" style="--y:573"><i class="p">00</i><b>音楽缶</b><p>最新のミュージックビデオ</p></div>
<div class="c u" style="--y:616"><i>25</i><b>weather report</b></div>
<div class="c u" style="--y:637"><i class="y">30</i><b>時代劇「破れ傘刀舟悪人狩り」第73話「入れ墨の挽歌」</b><p>高屋舗之介扮する八丁堀の町医者が、その得意とする外科手術と無外流居合いで人々を救い、悪人を</p></div>
<div class="c u" style="--y:791"><i>30</i><b>tvkお買物情報</b><p>暮らしに役立つ、選りすぐりの商品</p></div>
<div class="c u" style="--y:845"><i>59</i><b>weather report</b></div>
<div class="c u" style="--y:866"><i class="g">00</i><b>原田伸郎のめざせパーゴルフ!!!▽涼しい高原コースで女子プロVSジュニア！</b><p>前回ゲストにプロ</p></div>
<div class="c u" style="--y:957"><i>30</i><b>tvkお買物情報</b><p>暮らしに役立つ、選りすぐりの商品</p></div>
<div class="c u" style="--y:1006"><i>59</i><b>weather report</b></div>
<div class="c u" style="--y:1027"><i>00</i><b>tvkお買物情報</b><p>暮らしに役立つ、選りすぐりの商品をご紹介します。▽調理器具</p></div>
<div class="c u" style="--y:1181"><i>30</i><b>tvkお買物情報</b><p>暮らしに役立つ、選りすぐりの商品</p></div>
<div class="c u" style="--y:1229"><i>59</i><b>weather report</b></div>
<div class="c u" style="--y:1250"><i>00</i><b>tvkお買物情報</b><p>暮らしに役立つ、選りすぐりの商品</p></div>
<div class="c u" style="--y:1303"><i>30</i><b>tvkお買物情報</b><p>暮らしに役立つ、選りすぐりの商品をご紹介します。</p></div>
<div class="c u" style="--y:1377"><i>00</i><b>tvkお買物情報</b><p>暮らしに役立つ、選りすぐりの商品をご紹介します。▽医薬品</p></div>
<div class="c u" style="--y:1473"><i class="y">30</i><b>韓国ドラマ「百年の花嫁」第15話</b></div>
<div class="c u" style="--y:1521"><i>00</i><b>tvkお買物情報</b><p>暮らしに役立つ、選りすぐりの商品</p></div>
<div class="c l" style="--y:17"><i class="y">30</i><b>韓国ドラマ「百年の花嫁」第16話</b><p>最高のロマンティック</p></div>
<div class="c l" style="--y:82"><i>00</i><b>tvkお買物情報</b><p>暮らしに役立つ、選りすぐりの商品をご紹介します。</p></div>
<div class="c l" style="--y:152"><i class="y">30</i><b>懐ドラ「はるちゃん6」第23回</b><p>どんなに苦境に立</p></div>
<div class="c l" style="--y:208"><i>00</i><b>tvkお買物情報</b><p>暮らしに役立つ、選りすぐりの商品</p></div>
<div class="c l" style="--y:265"><i>30</i><b>tvkお買物情報</b><p>暮らしに役立つ、選りすぐりの商品をご紹介します。</p></div>
<div class="c l" style="--y:330"><i class="y">00</i><b>マメシバ一郎 フーテンの芝二郎 #4<span class="k">再</span></b><p>ついに一郎が</p></div>
<div class="c l" style="--y:394"><i>30</i><b>tvkお買物情報</b><p>暮らしに役立つ、選りすぐりの商品をご紹介します。</p></div>
<div class="c l" style="--y:460"><i>00</i><b>tvkニュース</b></div>
<div class="c l" style="--y:481"><i>05</i><b>限界テレビRemi</b></div>
<div class="c l" style="--y:503"><i class="p">15</i><b>PPV</b></div>
<div class="c l" style="--y:524"><i>20</i><b>weather report</b></div>
<div class="c l" style="--y:557"><i class="p">30</i><b>音楽缶</b><p>最新のミュージックビデオをノーカット</p></div>
<div class="c l" style="--y:616"><i class="r">55</i><b>ですこいすしず</b></div>
<div class="c l" style="--y:637"><i class="p">00</i><b>2025 ビルボードTOP100</b></div>
<div class="c l" style="--y:865"><i>55</i><b>tvkニュース</b></div>
<div class="c l" style="--y:886"><i class="g">00</i><b>第105回全国高校ラグビー大会【2回戦】</b><p>▽東大阪市花園ラグビー場（録画）</p></div>
<div class="c l" style="--y:1013"><i>25</i><b>weather report</b></div>
<div class="c l" style="--y:1034"><i class="g">30</i><b>第105回全国高校ラグビー大会【2回戦】</b><p>▽東大阪市花園ラグビー場（録画）</p></div>
<div class="c l" style="--y:1275"><i>55</i><b>weather report</b></div>
</div>

<!-- チバテレ -->
<div class="col" style="left:1418.8px;--e:3342px">
<div class="c u" style="--y:58"><i>00</i><b>生活情報【内容】百寿八味地黄丸</b><p>【内容】百寿八味</p></div>
<div class="c u" style="--y:122"><i class="p">30</i><b>新歌謡曲の匠 男の演歌・女の演歌<span class="k">再</span></b><p>男の演歌・女の演歌ゲストを迎えて最近の演歌をご紹介！クイズコーナーでゲストと新曲に迫ります！</p></div>
<div class="c u" style="--y:273"><i>00</i><b>生活情報</b></div>
<div class="c u" style="--y:343"><i>30</i><b>館山やわたんまち<span class="k">再</span></b><p>南房総地域を代表する祭りとして愛される【やわたんまち】。今年も余すことなくお届けします。</p></div>
<div class="c u" style="--y:502"><i>25</i><b>生活情報【内容】ひざサポートコラーゲン</b></div>
<div class="c u" style="--y:551"><i>55</i><b>ちば美彩 extra</b></div>
<div class="c u" style="--y:573"><i class="p">00</i><b>歌謡最前線</b><p>「梓夕子」「ゲストMC」そして、「野上こうじ」</p></div>
<div class="c u" style="--y:637"><i>30</i><b>生活情報【内容】えがおの黒酢黒にんにく</b><p>【内容】えがおの黒酢黒にんにく【電話】0120-988</p></div>
<div class="c u" style="--y:727"><i class="y">00</i><b>冬のソナタ▽第10話<span class="k">字</span></b><p>“今まで あなたは誰かを心から愛したことはありますか？” その微笑みに心打たれ、その涙に感動した…“韓流ブーム”のきっかけと</p></div>
<div class="c u" style="--y:866"><i class="y">00</i><b>冬のソナタ▽第11話<span class="k">字</span></b><p>“今まで あなたは誰かを心から愛したことはありますか？” その微笑みに心打たれ、その涙に感動した…“韓流ブーム”のきっかけとなった永遠の名作！</p></div>
<div class="c u" style="--y:1027"><i class="y">00</i><b>冬のソナタ▽第12話<span class="k">字</span></b><p>“今まで あなたは誰かを心から愛したことはありますか？” その微笑みに心打たれ、その涙に感動した…“韓流ブーム”のきっかけとなった永遠の名作！</p></div>
<div class="c u" style="--y:1250"><i>00</i><b>生活情報 【内容】えがおの黒酢黒にんにく</b></div>
<div class="c u" style="--y:1303"><i>30</i><b>水曜どうでしょうClassic 激闘！西表島 #5</b><p>「激闘西表島⑤」タレント二人で</p></div>
<div class="c u" style="--y:1377"><i>00</i><b>水曜どうでしょうClassic 激闘！西表島 #6</b><p>「激闘西表島⑥」タレント二人でカヌーを漕ぎ！大泉</p></div>
<div class="c u" style="--y:1473"><i>30</i><b>生活情報</b></div>
<div class="c u" style="--y:1521"><i>00</i><b>水曜どうでしょうClassic 激闘！西表島 #7</b></div>
<div class="c l" style="--y:17"><i>30</i><b>水曜どうでしょうClassic 激闘！西表島 #8</b><p>「激闘西表島⑧」</p></div>
<div class="c l" style="--y:82"><i>00</i><b>生活情報【内容】ひざサポートコラーゲン</b><p>【内容】ひざサポ</p></div>
<div class="c l" style="--y:152"><i class="y">30</i><b>おやじ太鼓▽第47話</b><p>木下恵介監督が親</p></div>
<div class="c l" style="--y:208"><i>00</i><b>生活情報 【内容】えがおの肝油 鮫珠</b></div>
<div class="c l" style="--y:265"><i>30</i><b>ちば見聞録 「千葉の城下町～大多喜</b></div>
<div class="c l" style="--y:308"><i>55</i><b>千葉が好き。房総</b></div>
<div class="c l" style="--y:330"><i class="y">00</i><b>マルモのおきて▽第3話</b><p>薫（芦田愛菜）と友樹（鈴木福）が小学校に入学することになり、護（阿部サダヲ）はランドセル購入な</p></div>
<div class="c l" style="--y:460"><i class="y">00</i><b>マルモのおきて▽第4話</b><p>憧れの牧村（滝沢沙織）と出掛けることになった護（阿部サダヲ）。</p></div>
<div class="c l" style="--y:637"><i>00</i><b>生活情報【内容】青寿八味地黄丸</b></div>
<div class="c l" style="--y:680"><i class="y">30</i><b>壬生義士伝～新選組でいちばん強かった男～ 第3話</b><p>新選組でいちばん強かった男 激動</p></div>
<div class="c l" style="--y:773"><i class="y">30</i><b>壬生義士伝～新選組でいちばん強かった男～ 第4話</b><p>新選組でいちばん強かった男 激動の時代にささやかな幸福だけを願った父と家族の感動の物語</p></div>
<div class="c l" style="--y:951"><i>40</i><b>生活情報【内容】</b></div>
<div class="c l" style="--y:977"><i>00</i><b>白黒アンジャッシュ▽白黒-1グランプリ決勝！</b></div>
<div class="c l" style="--y:1034"><i>30</i><b>太田上田～約8年ぶりに名古屋に</b></div>
<div class="c l" style="--y:1077"><i>55</i><b>みんなで防災～</b></div>
<div class="c l" style="--y:1098"><i>00</i><b>チバシン～what a beautiful life～<span class="k">再</span></b><p>第4回の放送となる「チバシン」。今回のゲストは八千代市出身、金メダリスト角田夏実さんです。思い出の地を巡り、角田夏実さんのルーツを紐解きます。</p></div>
<div class="c l" style="--y:1275"><i>55</i><b>天気予報</b></div>
</div>

<!-- テレ玉 -->
<div class="col" style="left:1558px;width:139px;--e:3342px">
<div class="c u" style="--y:58"><i>00</i><b>TVショッピング・リらいぶテレビショッピング<span class="k">S</span></b></div>
<div class="c u" style="--y:122"><i class="p">30</i><b>V－Clips<span class="k">字</span><span class="k">S</span></b></div>
<div class="c u" style="--y:143"><i class="r">40</i><b>テレ玉くんのうた</b></div>
<div class="c u" style="--y:165"><i>45</i><b>彩の国百科 花桃の郷編<span class="k">字</span><span class="k">S</span></b></div>
<div class="c u" style="--y:205"><i>55</i><b>TVショッピング・ショップジャパン<span class="k">S</span></b></div>
<div class="c u" style="--y:337"><i class="p">25</i><b>清水節子と時田由美子の歌日記<span class="k">S</span><span class="k">再</span></b><p>関内ホール公開収録ダイジェスト</p></div>
<div class="c u" style="--y:422"><i>55</i><b>お天気マップ<span class="k">S</span></b></div>
<div class="c u" style="--y:449"><i>00</i><b>買物情報・フロムココロテレビショッピング<span class="k">S</span></b></div>
<div class="c u" style="--y:519"><i class="p">30</i><b>彩の国百科<span class="k">字</span><span class="k">S</span></b><p>大宮化の丘編 さいたま市西区にあ</p></div>
<div class="c u" style="--y:573"><i class="y">00</i><b>必殺仕事人</b><p>毒し技 闇医術手両淺し</p></div>
<div class="c u" style="--y:727"><i>00</i><b>ショッピングタイム・ダイレクトテレショップ<span class="k">S</span></b></div>
<div class="c u" style="--y:791"><i class="p">30</i><b>彩の国百科<span class="k">字</span><span class="k">S</span></b><p>ネモフィラ編 県内の四季の映像を音楽にあわせて紹介します。</p></div>
<div class="c u" style="--y:866"><i>00</i><b>TVショッピング・毎日笑顔テレビショッピング<span class="k">S</span></b></div>
<div class="c u" style="--y:957"><i class="y">30</i><b>ポッサム～愛と運命を盗んだ男～<span class="k">字</span><span class="k">二</span><span class="k">S</span></b><p>第9話</p></div>
<div class="c u" style="--y:1159"><i>25</i><b>TVショッピング・健康テレビショッピング<span class="k">S</span></b></div>
<div class="c u" style="--y:1223"><i class="r">55</i><b>テレ玉くんのうた</b></div>
<div class="c u" style="--y:1250"><i>00</i><b>TVショッピング・ダイレクトテレショップ<span class="k">S</span></b></div>
<div class="c u" style="--y:1303"><i>30</i><b>石川青春バラエティーサンドウィッチマンのキセキSHOWタイム！！<span class="k">S</span></b><p>いつも感謝しているのに伝えられない感謝の気持ちを石川県の人たちがドッキリ芸能人と</p></div>
<div class="c u" style="--y:1452"><i>25</i><b>＃石川は一緒に</b></div>
<div class="c u" style="--y:1473"><i>30</i><b>TVショッピング・ダイレクトテレショップ<span class="k">S</span></b></div>
<div class="c u" style="--y:1521"><i class="y">00</i><b>逆流<span class="k">字</span><span class="k">S</span></b><p>第32話 娘に会いに</p></div>
<div class="c l" style="--y:17"><i>30</i><b>ショップジャパン<span class="k">S</span></b></div>
<div class="c l" style="--y:82"><i class="r">00</i><b>テレ玉くんのうた</b></div>
<div class="c l" style="--y:110"><i>05</i><b>日本ふるさと百景<span class="k">字</span><span class="k">S</span></b></div>
<div class="c l" style="--y:152"><i>30</i><b>埼玉ケーブルテレビスペシャル<span class="k">S</span></b></div>
<div class="c l" style="--y:208"><i>00</i><b>ショッピングタイム・ダイレクトテレショップ<span class="k">S</span></b></div>
<div class="c l" style="--y:265"><i class="g">30</i><b>川口オート スーパースターフェスタ2025<span class="k">S</span></b></div>
<div class="c l" style="--y:430"><i>50</i><b>TELETAMA NEWS<span class="k">S</span></b></div>
<div class="c l" style="--y:460"><i class="g">00</i><b>第38回埼玉社会人ゴルフテレビ選手権<span class="k">S</span></b><p>7回の予選と初開催の準決勝を勝ち上がった149人が、決勝の舞台・森林公園ゴルフ倶楽部で頂点を目指す。決着はプレーオフにもつれ込む大接戦に・・・！</p></div>
<div class="c l" style="--y:680"><i>30</i><b>（仮）結太朗の縁むすびまっせ2025総集編！<span class="k">S</span></b></div>
<div class="c l" style="--y:951"><i class="g">40</i><b>ツジハツ！！30</b></div>
<div class="c l" style="--y:977"><i>00</i><b>テレ玉認定！たまぐるめ 2025年末SP<span class="k">S</span></b></div>
<div class="c l" style="--y:1034"><i class="g">30</i><b>BACHプラザ<span class="k">S</span></b><p>「ボートレース戸田」「川口オート」</p></div>
<div class="c l" style="--y:1098"><i class="p">00</i><b>彩の国百科<span class="k">字</span><span class="k">S</span></b><p>空から見た彩の国編 県内の四季の映像を音楽にあわせて紹介します。</p></div>
<div class="c l" style="--y:1210"><i>30</i><b>TVショッピング<span class="k">S</span></b></div>
</div>

</body></html>
